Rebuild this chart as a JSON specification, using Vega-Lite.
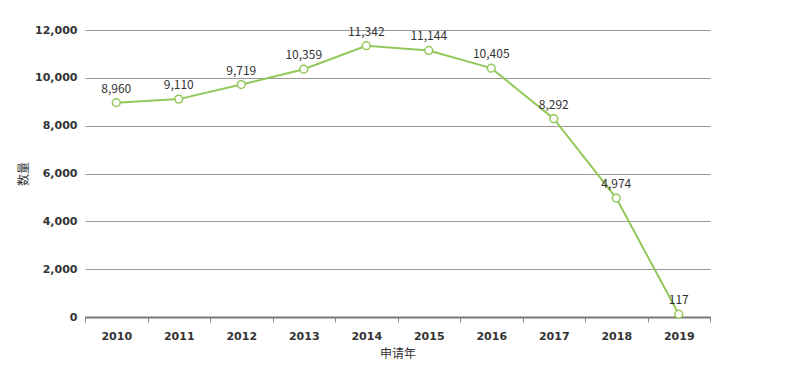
{
  "$schema": "https://vega.github.io/schema/vega-lite/v6.json",
  "width": 625,
  "height": 287,
  "autosize": {"type": "none"},
  "padding": {"left": 85, "top": 30, "right": 95, "bottom": 50},
  "background": "white",
  "config": {"view": {"stroke": null}},
  "data": {"values": [
    {"year": "2010", "count": 8960},
    {"year": "2011", "count": 9110},
    {"year": "2012", "count": 9719},
    {"year": "2013", "count": 10359},
    {"year": "2014", "count": 11342},
    {"year": "2015", "count": 11144},
    {"year": "2016", "count": 10405},
    {"year": "2017", "count": 8292},
    {"year": "2018", "count": 4974},
    {"year": "2019", "count": 117}
  ]},
  "encoding": {
    "x": {
      "field": "year", "type": "ordinal",
      "scale": {"paddingInner": 0, "paddingOuter": 0},
      "axis": {
        "title": "申请年", "titleFont": "Noto Sans CJK SC", "titleFontSize": 12, "titleFontWeight": "normal", "titleColor": "#333", "titlePadding": 7,
        "labelAngle": 0, "labelFont": "DejaVu Sans", "labelFontSize": 11, "labelFontWeight": "bold", "labelColor": "#333", "labelPadding": 8,
        "tickBand": "extent", "tickColor": "#888", "tickSize": 5,
        "domainColor": "#777", "domainWidth": 2, "grid": false
      }
    },
    "y": {
      "field": "count", "type": "quantitative",
      "scale": {"domain": [0, 12000], "nice": false},
      "axis": {
        "title": "数量", "titleFont": "Noto Sans CJK SC", "titleFontSize": 12, "titleFontWeight": "normal", "titleColor": "#333", "titlePadding": 4,
        "values": [0, 2000, 4000, 6000, 8000, 10000, 12000], "format": ",.0f",
        "labelFont": "DejaVu Sans", "labelFontSize": 11, "labelFontWeight": "bold", "labelColor": "#333", "labelPadding": 8,
        "ticks": false, "domain": false, "grid": true, "gridColor": "#999", "gridWidth": 1
      }
    }
  },
  "layer": [
    {"mark": {"type": "line", "color": "#92c85a", "strokeWidth": 2}},
    {"mark": {"type": "point", "filled": true, "fill": "white", "stroke": "#92c85a", "strokeWidth": 1.5, "size": 60, "opacity": 1}},
    {"mark": {"type": "text", "baseline": "bottom", "dy": -7, "font": "Noto Sans CJK SC", "fontSize": 12, "color": "#333"},
     "encoding": {"text": {"field": "count", "type": "quantitative", "format": ",.0f"}}}
  ]
}
